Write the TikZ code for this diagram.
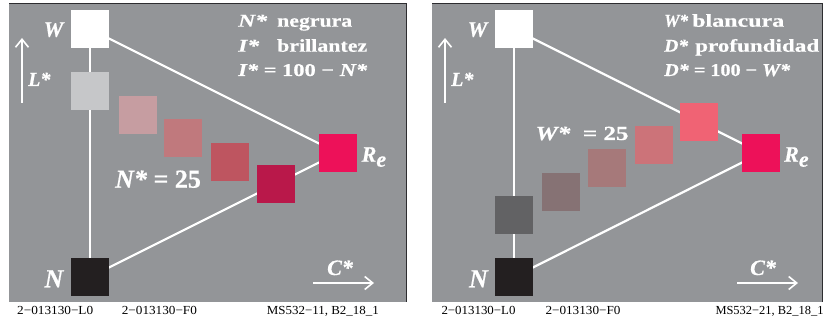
\documentclass[tikz,border=0pt]{standalone}
\usepackage{fontspec}
\usepackage{graphicx}
\setmainfont{Liberation Serif}
\newfontfamily\heavyfont{Liberation Serif}[FakeBold=0.5]
\usetikzlibrary{arrows.meta}
\newcommand{\fitw}[2]{\resizebox{#1}{\height}{#2}}
\definecolor{panelgray}{RGB}{147,149,152}
\definecolor{edgedark}{RGB}{45,45,48}
\definecolor{lgray}{RGB}{198,199,201}
\definecolor{lpinkA}{RGB}{198,157,161}
\definecolor{lpinkB}{RGB}{192,121,125}
\definecolor{lpinkC}{RGB}{190,85,96}
\definecolor{lpinkD}{RGB}{185,24,74}
\definecolor{redE}{RGB}{237,17,89}
\definecolor{rpinkA}{RGB}{240,99,116}
\definecolor{rpinkB}{RGB}{204,115,121}
\definecolor{rpinkC}{RGB}{166,121,122}
\definecolor{rpinkD}{RGB}{134,114,116}
\definecolor{dgray}{RGB}{98,98,100}
\definecolor{nblack}{RGB}{35,31,32}
\pgfdeclarelayer{back}
\pgfdeclarelayer{mid}
\pgfsetlayers{back,mid,main}
\begin{document}
\begin{tikzpicture}[x=1pt,y=-1pt,
  sq/.style={minimum size=38pt, inner sep=0pt, outer sep=0pt, draw=none},
  tri/.style={white, line width=2.2pt},
  lbl/.style={text=white, inner sep=0pt, font=\heavyfont\bfseries\itshape\fontsize{22}{22}\selectfont},
  bigN/.style={text=white, inner sep=0pt, font=\heavyfont\bfseries\itshape\fontsize{26}{26}\selectfont},
  info/.style={text=white, inner sep=0pt, anchor=base west, font=\heavyfont\bfseries\fontsize{18}{18}\selectfont},
  foot/.style={text=black, inner sep=0pt, anchor=base west, font=\fontsize{12.3}{12.3}\selectfont},
  axis/.style={white, line width=1.8pt, -{Straight Barb[length=8pt,width=13pt,line width=1.6pt]}},
  edge/.style={edgedark, line width=1pt}
]
\useasboundingbox (0,0) rectangle (825,320);

% panels
\begin{pgfonlayer}{back}
\fill[panelgray] (9,4) rectangle (406,302);
\fill[panelgray] (432,4) rectangle (822,302);
\draw[edge] (9,4) -- (406,4) -- (406,302);
\draw[edge] (432,4) -- (822,4) -- (822,302);
\end{pgfonlayer}

% ---------- left panel ----------
\node[sq, fill=white]  (lW) at (90,29) {};
\node[sq, fill=lgray]  (lG) at (90,91) {};
\node[sq, fill=lpinkA] (lA) at (138,115) {};
\node[sq, fill=lpinkB] (lB) at (183,138) {};
\node[sq, fill=lpinkC] (lC) at (230,162) {};
\node[sq, fill=lpinkD] (lD) at (276,184) {};
\node[sq, fill=redE]   (lR) at (338,153) {};
\node[sq, fill=nblack] (lN) at (90,277) {};
\begin{pgfonlayer}{mid}
\draw[tri] (lW.center) -- (lN.center);
\draw[tri] (lW.center) -- (lR.center);
\draw[tri] (lN.center) -- (lR.center);
\end{pgfonlayer}

\node[lbl, anchor=base east] (lWl) at (63.5,36.7) {W};
\node[lbl, anchor=base west, font=\heavyfont\bfseries\itshape\fontsize{20}{20}\selectfont] (lLl) at (28,86) {L*};
\node[bigN, anchor=base east] (lNl) at (63.5,287.3) {N};
\node[lbl, anchor=base west] (lRl) at (361.5,161.7) {R\raisebox{-5pt}{e}};
\node[lbl, anchor=base west] (lCl) at (327,275) {C*};
\coordinate (lLa) at (22,103);
\coordinate (lLb) at (22,38);
\draw[axis] (lLa) -- (lLb);
\coordinate (lCa) at (313,283);
\coordinate (lCb) at (374,283);
\draw[axis] (lCa) -- (lCb);

\node[info] (lt1a) at (238,26.7) {\fitw{29pt}{\textit{N*}}};
\node[info] (lt1b) at (277,26.7) {\fitw{75pt}{negrura}};
\node[info] (lt2a) at (238,51.7) {\fitw{21pt}{\textit{I*}}};
\node[info] (lt2b) at (277,51.7) {\fitw{90pt}{brillantez}};
\node[info] (lt3) at (238,76) {\fitw{129pt}{\textit{I*} = 100 − \textit{N*}}};
\node[info, font=\heavyfont\bfseries\fontsize{26}{26}\selectfont] (lNeq) at (115,187.7) {\textit{N*} = 25};

\node[foot] (lf1) at (17,315) {\fitw{76pt}{2−013130−L0}};
\node[foot] (lf2) at (121.7,315) {\fitw{75pt}{2−013130−F0}};
\node[foot] (lf3) at (266.7,315) {\fitw{112pt}{MS532−11, B2\_18\_1}};

% ---------- right panel ----------
\node[sq, fill=white]  (rW) at (514,29) {};
\node[sq, fill=rpinkA] (rA) at (699,122) {};
\node[sq, fill=rpinkB] (rB) at (654,145) {};
\node[sq, fill=rpinkC] (rC) at (607,168) {};
\node[sq, fill=rpinkD] (rD) at (561,192) {};
\node[sq, fill=dgray]  (rG) at (514,215) {};
\node[sq, fill=redE]   (rR) at (761,153) {};
\node[sq, fill=nblack] (rN) at (514,277) {};
\begin{pgfonlayer}{mid}
\draw[tri] (rW.center) -- (rN.center);
\draw[tri] (rW.center) -- (rR.center);
\draw[tri] (rN.center) -- (rR.center);
\end{pgfonlayer}

\node[lbl, anchor=base east] (rWl) at (487.5,36.7) {W};
\node[lbl, anchor=base west, font=\heavyfont\bfseries\itshape\fontsize{20}{20}\selectfont] (rLl) at (451,86) {L*};
\node[bigN, anchor=base east] (rNl) at (488,287.3) {N};
\node[lbl, anchor=base west] (rRl) at (784,161.7) {R\raisebox{-5pt}{e}};
\node[lbl, anchor=base west] (rCl) at (750,275) {C*};
\coordinate (rLa) at (445,103);
\coordinate (rLb) at (445,38);
\draw[axis] (rLa) -- (rLb);
\coordinate (rCa) at (737,283);
\coordinate (rCb) at (798,283);
\draw[axis] (rCa) -- (rCb);

\node[info] (rt1a) at (664,26.7) {\fitw{24pt}{\textit{W*}}};
\node[info] (rt1b) at (692,26.7) {\fitw{92pt}{blancura}};
\node[info] (rt2a) at (664,51.7) {\fitw{24pt}{\textit{D*}}};
\node[info] (rt2b) at (695,51.7) {\fitw{124pt}{profundidad}};
\node[info] (rt3) at (664,76) {\fitw{126pt}{\textit{D*} = 100 − \textit{W*}}};
\node[info, font=\heavyfont\bfseries\fontsize{20}{20}\selectfont] (rWeq) at (535.3,140) {\fitw{93pt}{\textit{W*}\ \ = 25}};

\node[foot] (rf1) at (441.3,315) {\fitw{74pt}{2−013130−L0}};
\node[foot] (rf2) at (545.3,315) {\fitw{75pt}{2−013130−F0}};
\node[foot] (rf3) at (715.3,315) {\fitw{108pt}{MS532−21, B2\_18\_1}};
\end{tikzpicture}
\end{document}
